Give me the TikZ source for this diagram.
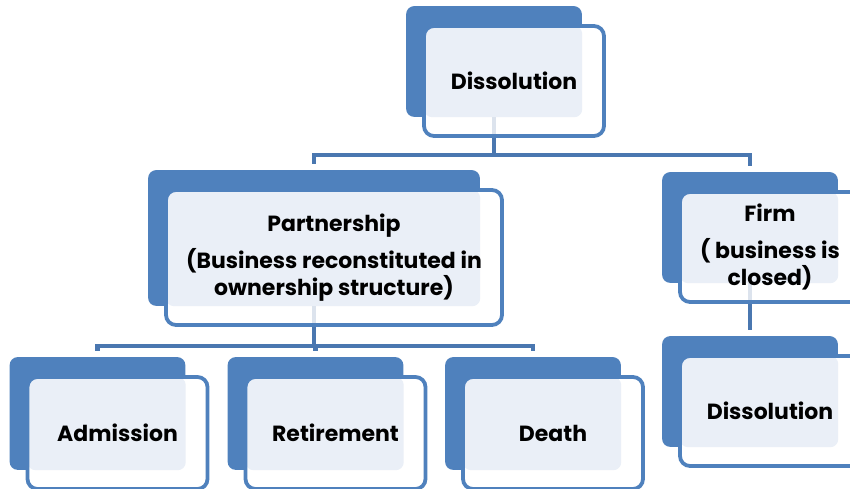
\documentclass[tikz,border=0pt]{standalone}
\usepackage{fontspec}
\setmainfont{Poppins}
\usetikzlibrary{positioning, fit, backgrounds}

\definecolor{unitblue}{HTML}{4F81BD}
\definecolor{unitlight}{HTML}{EAEFF7}
\definecolor{linkblue}{HTML}{4A77B0}
\definecolor{linkfaint}{HTML}{DCE3ED}

\tikzset{
  unit/.style={draw=unitblue, line width=0.075cm, rounded corners=0.2cm,
    align=center, inner sep=0pt,
    font=\fontsize{12.5}{15.3}\selectfont\bfseries},
  backbox/.style={fill=unitblue, rounded corners=0.16cm, inner sep=0pt},
  link/.style={draw=linkblue, line width=0.085cm, shorten >=0.12cm},
}

\begin{document}
\begin{tikzpicture}[x=0.02cm, y=-0.02cm]
% Parameters
\def\px{0.02cm}   % one pixel of the picture

\useasboundingbox (0,0) rectangle (850,489);

% Front boxes with their texts
\node[unit, minimum width=180*\px, minimum height=110*\px] (diss) at (514,81) {Dissolution};
\node[unit, minimum width=336*\px, minimum height=135*\px] (part) at (334,257.5)
  {Partnership\\[6pt](Business reconstituted in\\ownership structure)};
\node[unit, minimum width=180*\px, minimum height=110*\px] (firm) at (770,247)
  {Firm\\[6pt]( business is\\closed)};
\node[unit, minimum width=180*\px, minimum height=110*\px] (close) at (770,411) {Dissolution};
\node[unit, minimum width=180*\px, minimum height=112*\px] (adm) at (117.5,433) {Admission};
\node[unit, minimum width=180*\px, minimum height=112*\px] (ret) at (335.5,433) {Retirement};
\node[unit, minimum width=180*\px, minimum height=112*\px] (death) at (553,433) {Death};

\begin{scope}[on background layer]
\clip (0,0) rectangle (850,489);

% Back boxes, white and light fills
\foreach \u in {diss,part,firm,close,adm,ret,death} {
  \node[backbox, fit={([shift={(-16,-18)}]\u.north west) ([shift={(-24,-21)}]\u.south east)}] (\u-b) {};
  \fill[white, rounded corners=0.2cm] ([shift={(2,2)}]\u.north west) rectangle ([shift={(-2,-2)}]\u.south east);
  \fill[unitlight, rounded corners=0.16cm] ([shift={(2,2)}]\u.north west) rectangle (\u-b.south east);
}

% faint stubs inside the parent boxes
\foreach \u in {diss,part,firm}
  \draw[line width=0.085cm, linkfaint] (\u-b.south) -- (\u-b.south |- \u.south);

% Connectors
\draw[link] (diss-b.south |- diss.south) -- ++(0,17) -| (part-b.north);
\draw[link] (diss-b.south |- diss.south) -- ++(0,17) -| (firm-b.north);
\draw[link] (part-b.south |- part.south) -- ++(0,19) -| (adm-b.north);
\draw[link] (part-b.south |- part.south) -- ++(0,19) -| (ret-b.north);
\draw[link] (part-b.south |- part.south) -- ++(0,19) -| (death-b.north);
\draw[link] (firm-b.south |- firm.south) -- (close-b.north);
\end{scope}

\end{tikzpicture}
\end{document}
